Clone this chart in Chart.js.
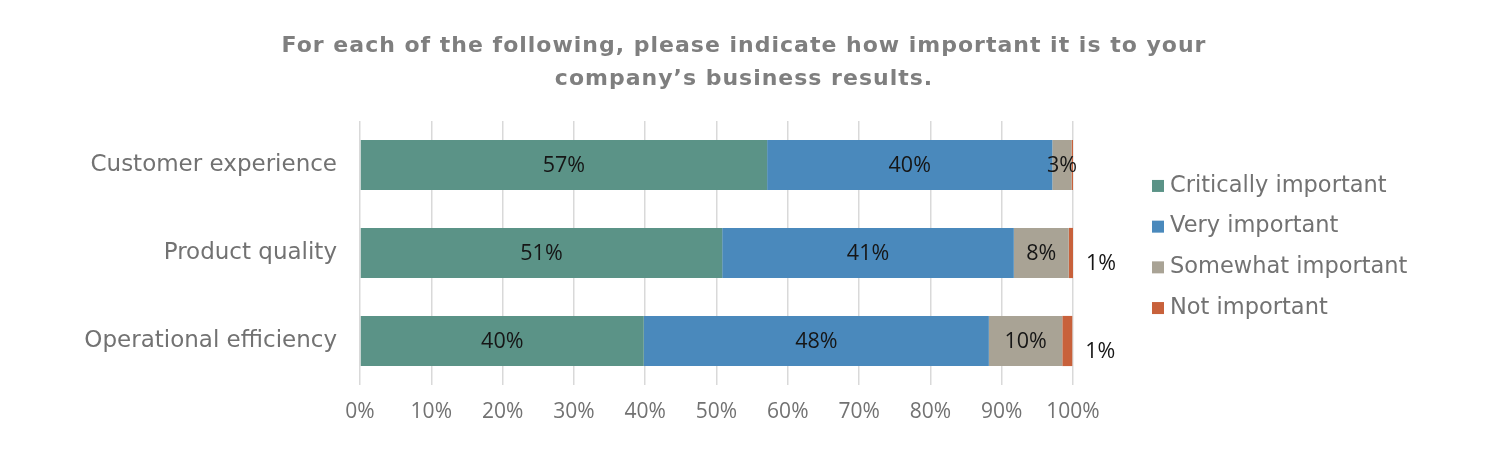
<!DOCTYPE html>
<html><head><meta charset="utf-8">
<script src="https://cdn.jsdelivr.net/npm/chart.js@4.4.0/dist/chart.umd.min.js"></script>
<style>html,body{margin:0;padding:0;background:#fff;overflow:hidden}</style>
</head><body>
<canvas id="c" width="1488" height="461" style="width:1488px;height:461px;display:block"></canvas>
<script>
const titleLines = ['For each of the following, please indicate how important it is to your', 'company\u2019s business results.'];
const categories = ['Customer experience', 'Product quality', 'Operational efficiency'];
const seriesNames = ['Critically important', 'Very important', 'Somewhat important', 'Not important'];
const critically = [57.1, 50.8, 39.8];
const very = [40.0, 40.9, 48.4];
const somewhat = [2.7, 7.7, 10.3];
const notImportant = [0.2, 0.6, 1.4];
const seriesColors = ['#5B9387', '#4A89BC', '#A9A395', '#C8613B'];

const TEXT_FONT = '"DejaVu Sans", sans-serif';
const NUM_FONT = '"Open Sans", sans-serif';
const GRAY = '#727272';

const titleSpacingPlugin = {
  id: 'titleSpacing',
  afterInit(chart) {
    const tb = chart.titleBlock;
    if (!tb || tb.__spaced) return;
    const orig = tb.draw;
    tb.draw = function () {
      const ctx = chart.ctx;
      ctx.save();
      if ('letterSpacing' in ctx) ctx.letterSpacing = '1px';
      orig.apply(this, arguments);
      ctx.restore();
    };
    tb.__spaced = true;
  }
};

const labelPlugin = {
  id: 'barLabels',
  afterDatasetsDraw(chart) {
    const ctx = chart.ctx;
    chart.data.datasets.forEach((ds, di) => {
      const meta = chart.getDatasetMeta(di);
      meta.data.forEach((bar, i) => {
        const r = Math.round(ds.data[i]);
        if (r < 1) return;
        const txt = r + '%';
        ctx.save();
        ctx.font = '21.5px ' + NUM_FONT;
        ctx.fillStyle = '#161616';
        ctx.textBaseline = 'middle';
        if (di === 3) {
          ctx.textAlign = 'left';
          ctx.fillText(txt, bar.x + 13, bar.y + 11);
        } else {
          ctx.textAlign = 'center';
          ctx.fillText(txt, (bar.x + bar.base) / 2, bar.y + 1);
        }
        ctx.restore();
      });
    });
  }
};

const legendPlugin = {
  id: 'sideLegend',
  afterDraw(chart) {
    const ctx = chart.ctx;
    const ca = chart.chartArea;
    const spacing = 40.7;
    const n = chart.data.datasets.length;
    const cy = (ca.top + ca.bottom) / 2 - 6;
    const x0 = ca.right + 79;
    chart.data.datasets.forEach((ds, i) => {
      const y = cy + (i - (n - 1) / 2) * spacing;
      ctx.save();
      ctx.fillStyle = ds.backgroundColor;
      ctx.fillRect(x0, y - 6, 12, 12);
      ctx.font = '22.5px ' + TEXT_FONT;
      ctx.fillStyle = GRAY;
      ctx.textAlign = 'left';
      ctx.textBaseline = 'middle';
      ctx.fillText(ds.label, x0 + 18, y);
      ctx.restore();
    });
  }
};

const seriesData = [critically, very, somewhat, notImportant];

new Chart(document.getElementById('c'), {
  type: 'bar',
  data: {
    labels: categories,
    datasets: seriesNames.map((name, i) => ({
      label: name,
      data: seriesData[i],
      backgroundColor: seriesColors[i],
      borderWidth: 0,
      barPercentage: 0.57,
      categoryPercentage: 1
    }))
  },
  options: {
    indexAxis: 'y',
    responsive: false,
    animation: false,
    devicePixelRatio: 1,
    layout: { padding: 0 },
    plugins: {
      legend: { display: false },
      tooltip: { enabled: false },
      title: {
        display: true,
        text: titleLines,
        color: '#7f7f7f',
        font: { family: TEXT_FONT, size: 22, weight: 'bold', lineHeight: 1.5 },
        padding: { top: 30, bottom: 25 }
      }
    },
    scales: {
      x: {
        stacked: true,
        min: 0, max: 100,
        ticks: { stepSize: 10, callback: v => v + '%', color: GRAY, font: { family: NUM_FONT, size: 21 }, padding: 14 },
        grid: { color: '#d9d9d9', lineWidth: 1.5, drawTicks: false },
        border: { display: false },
        afterFit(s) { s.height = 76; }
      },
      y: {
        stacked: true,
        ticks: { color: GRAY, font: { family: TEXT_FONT, size: 23 }, padding: 15 },
        grid: { display: false },
        border: { display: false },
        afterFit(s) { s.width = 360; }
      },
      yRight: {
        type: 'category',
        position: 'right',
        ticks: { display: false },
        grid: { display: false, drawTicks: false },
        border: { display: false },
        afterFit(s) { s.width = 415; }
      }
    }
  },
  plugins: [titleSpacingPlugin, labelPlugin, legendPlugin]
});
</script>
</body></html>
